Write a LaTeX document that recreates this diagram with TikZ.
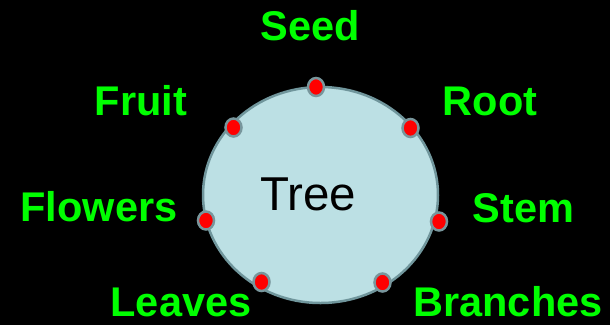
\documentclass[tikz,border=0pt]{standalone}
\usepackage{fontspec}
\setmainfont{Liberation Sans}
\usetikzlibrary{shapes.geometric}
\definecolor{bgblack}{RGB}{0,0,0}
\definecolor{treefill}{RGB}{188,224,228}
\definecolor{treeedge}{RGB}{112,150,156}
\definecolor{dotred}{RGB}{255,0,0}
\definecolor{dotedge}{RGB}{120,150,156}
\definecolor{labgreen}{RGB}{0,255,0}
\tikzset{
  treebody/.style={ellipse, fill=treefill, draw=treeedge, line width=2.5pt, minimum width=235pt, minimum height=216pt, inner sep=0pt},
  reddot/.style={ellipse, fill=dotred, draw=dotedge, line width=2.5pt, minimum width=16pt, minimum height=18pt, inner sep=0pt},
  partlabel/.style={anchor=base, text=labgreen, font=\fontsize{41.5pt}{41.5pt}\selectfont\bfseries, inner sep=0pt},
  centrelabel/.style={anchor=base, text=black, font=\fontsize{47.5pt}{47.5pt}\selectfont, inner sep=0pt}
}
\begin{document}
\begin{tikzpicture}[x=1pt,y=-1pt]
\fill[bgblack] (0,0) rectangle (610,325);
\useasboundingbox (0,0) rectangle (610,325);
\node[treebody] (tree) at (320.5,195) {};
\node[centrelabel] (treetext) at (308,210) {Tree};
\node[reddot] (dseed) at (316,87) {};
\node[reddot] (droot) at (410.5,128) {};
\node[reddot] (dstem) at (439,221.5) {};
\node[reddot] (dbranches) at (382.5,282.5) {};
\node[reddot] (dleaves) at (261.5,282) {};
\node[reddot] (dflowers) at (206,220.5) {};
\node[reddot] (dfruit) at (233.5,127.5) {};
\node[partlabel] (lseed) at (310.5,40) {Seed};
\node[partlabel] (lfruit) at (141,115) {Fruit};
\node[partlabel] (lroot) at (490,115) {Root};
\node[partlabel] (lflowers) at (99,221) {Flowers};
\node[partlabel] (lstem) at (523.5,222) {Stem};
\node[partlabel] (lleaves) at (181,316) {Leaves};
\node[partlabel] (lbranches) at (508,316) {Branches};
\end{tikzpicture}
\end{document}
